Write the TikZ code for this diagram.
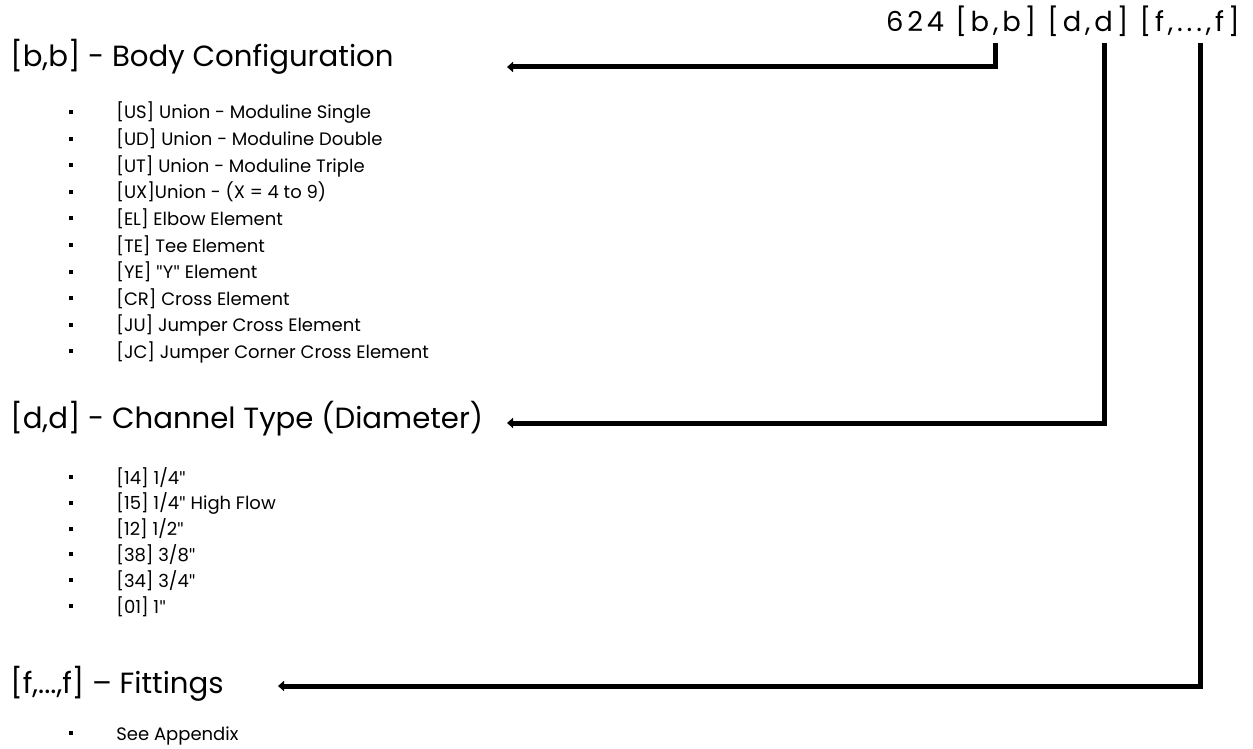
\documentclass[tikz,border=0pt]{standalone}
\usepackage{fontspec}
\setmainfont{Poppins}
\newfontfamily\quotefont{Lato}
\usetikzlibrary{arrows.meta, positioning}
\newcommand{\dq}{{\quotefont\char34}}

\begin{document}
\begin{tikzpicture}[x=0.5pt, y=-0.5pt,
    head/.style={anchor=base west, inner sep=0pt, font=\fontsize{14.6}{16}\selectfont},
    item/.style={anchor=base west, inner sep=0pt, font=\fontsize{9}{11}\selectfont},
    link/.style={line width=2.5pt, {Triangle[width=5pt,length=3pt]}-}]
  \useasboundingbox (0,0) rectangle (1253,749);
  % part number
  \node[anchor=base east, inner sep=0pt, font=\fontsize{13.7}{16}\selectfont\addfontfeatures{LetterSpace=14}]
    (code) at (1240,32) {624 [b,b] [d,d] [f,...,f]};
  \coordinate (bbtop) at (995,43);
  \coordinate (ddtop) at (1104,43);
  \coordinate (fftop) at (1200,43);
  % headings
  \node[head] (bbhead) at (10,67) {[b,b] - Body Configuration};
  \node[head] (ddhead) at (10,428) {[d,d] - Channel Type (Diameter)};
  \node[head] (ffhead) at (10,693) {[f,...,f] – Fittings};
  \coordinate (bbend) at (507,67);
  \coordinate (ddend) at (507,423);
  \coordinate (ffend) at (278,686);
  % connectors
  \draw[link] (bbend) -| (bbtop);
  \draw[link] (ddend) -| (ddtop);
  \draw[link] (ffend) -| (fftop);
  % body list
  \foreach \t [count=\i from 0] in {{[US] Union - Moduline Single},
      {[UD] Union - Moduline Double}, {[UT] Union - Moduline Triple},
      {[UX]Union - (X = 4 to 9)}, {[EL] Elbow Element}, {[TE] Tee Element},
      {[YE] \dq Y\dq\ Element}, {[CR] Cross Element}, {[JU] Jumper Cross Element},
      {[JC] Jumper Corner Cross Element}} {
    \fill (69,{110+26.6*\i}) rectangle ++(4,4);
    \node[item] (bb\i) at (116,{119+26.6*\i}) {\t};
  }
  % channel list
  \foreach \t [count=\i from 0] in {{[14] 1/4\dq}, {[15] 1/4\dq\ High Flow},
      {[12] 1/2\dq}, {[38] 3/8\dq}, {[34] 3/4\dq}, {[01] 1\dq}} {
    \fill (69,{475+25.8*\i}) rectangle ++(4,4);
    \node[item] (dd\i) at (116,{484+25.8*\i}) {\t};
  }
  % fittings
  \fill (69,731) rectangle ++(4,4);
  \node[item] (ff0) at (116,740) {See Appendix};
\end{tikzpicture}
\end{document}
